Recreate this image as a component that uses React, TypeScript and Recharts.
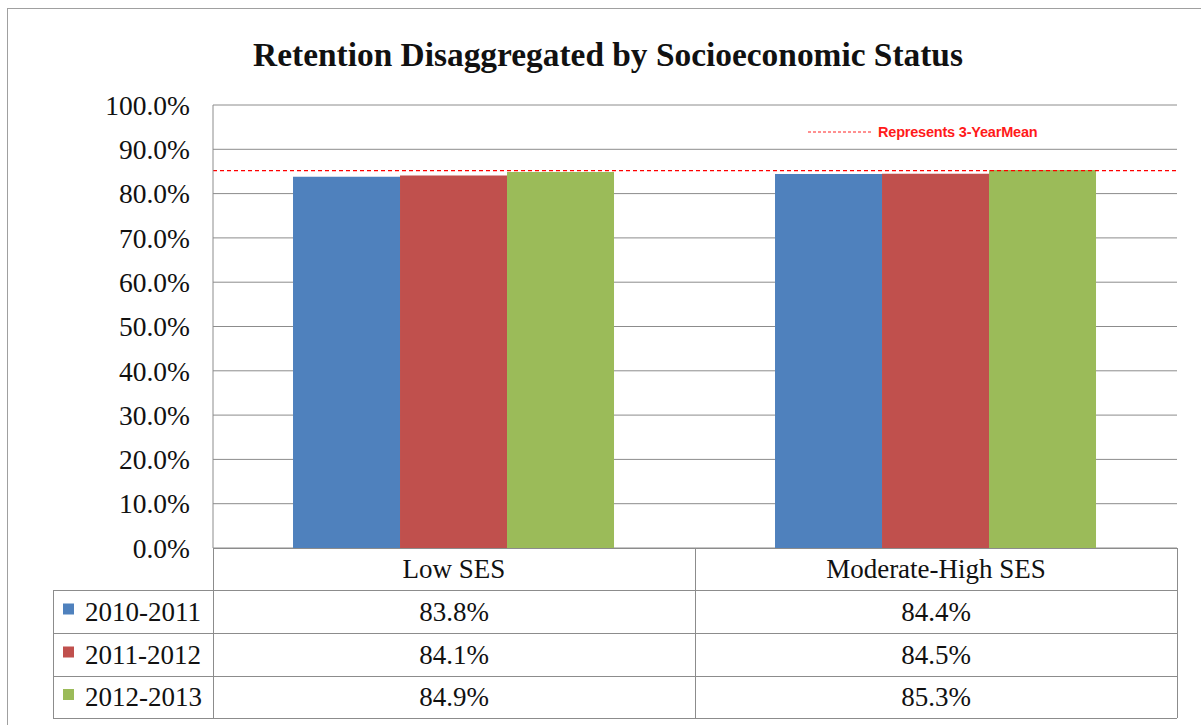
import { BarChart, Bar, XAxis, YAxis, CartesianGrid, ReferenceLine } from "recharts";

const categories = ["Low SES", "Moderate-High SES"];
const seriesNames = ["2010-2011", "2011-2012", "2012-2013"];
const values2010 = [83.8, 84.4];
const values2011 = [84.1, 84.5];
const values2012 = [84.9, 85.3];
const yTicks = [0, 10, 20, 30, 40, 50, 60, 70, 80, 90, 100];
const meanValue = 85.2;

const COLORS = ["#4F81BD", "#C0504D", "#9BBB59"];
const seriesValues = [values2010, values2011, values2012];
const keys = ["s2010", "s2011", "s2012"];

const data = categories.map((name, i) => ({
  name,
  s2010: values2010[i],
  s2011: values2011[i],
  s2012: values2012[i],
}));

const W = 1201;
const H = 725;
const PLOT_LEFT = 213;
const PLOT_RIGHT = 1177;
const PLOT_TOP = 105;
const PLOT_BOTTOM = 548;
const LEGEND_LEFT = 53;
const ROW_LINES = [548, 590, 633, 676, 718];
const SERIF = "Liberation Serif";
const GRID = "#8c8c8c";

const fmt = (v: number) => `${v.toFixed(1)}%`;

function Table() {
  const colW = (PLOT_RIGHT - PLOT_LEFT) / categories.length;
  const colX = categories.map((_, i) => PLOT_LEFT + colW * i);
  return (
    <svg
      width={W}
      height={H}
      style={{ position: "absolute", left: 0, top: 0, pointerEvents: "none", fontFamily: SERIF }}
    >
      <rect x={7.5} y={8.5} width={1200} height={720} fill="none" stroke="#a0a0a0" />
      <text
        x={608}
        y={66}
        textAnchor="middle"
        fontFamily={SERIF}
        fontWeight="bold"
        fontSize={33.4}
        fill="#111"
      >
        Retention Disaggregated by Socioeconomic Status
      </text>

      {/* mean legend */}
      <line x1={808} x2={873} y1={132} y2={132} stroke="#ff2020" strokeWidth={1} strokeDasharray="3 2" />
      <text
        x={878}
        y={137}
        fontFamily="Liberation Sans"
        fontWeight="bold"
        fontSize={14.5}
        fill="#ff1a1a"
        letterSpacing={-0.2}
      >
        Represents 3-YearMean
      </text>

      {/* table grid */}
      <line x1={PLOT_LEFT} x2={PLOT_RIGHT} y1={ROW_LINES[0] + 0.5} y2={ROW_LINES[0] + 0.5} stroke={GRID} />
      {ROW_LINES.slice(1).map((y) => (
        <line key={y} x1={LEGEND_LEFT} x2={PLOT_RIGHT} y1={y + 0.5} y2={y + 0.5} stroke={GRID} />
      ))}
      <line x1={LEGEND_LEFT + 0.5} x2={LEGEND_LEFT + 0.5} y1={ROW_LINES[1]} y2={ROW_LINES[4]} stroke={GRID} />
      <line x1={PLOT_LEFT + 0.5} x2={PLOT_LEFT + 0.5} y1={PLOT_BOTTOM} y2={ROW_LINES[4]} stroke={GRID} />
      {colX.slice(1).map((x) => (
        <line key={x} x1={x + 0.5} x2={x + 0.5} y1={ROW_LINES[0]} y2={ROW_LINES[4]} stroke={GRID} />
      ))}
      <line x1={PLOT_RIGHT + 0.5} x2={PLOT_RIGHT + 0.5} y1={ROW_LINES[0]} y2={ROW_LINES[4]} stroke={GRID} />

      {/* header */}
      {categories.map((c, i) => (
        <text
          key={c}
          x={colX[i] + colW / 2}
          y={(ROW_LINES[0] + ROW_LINES[1]) / 2 + 9}
          textAnchor="middle"
          fontFamily={SERIF}
          fontSize={27}
          fill="#111"
        >
          {c}
        </text>
      ))}

      {/* rows */}
      {seriesNames.map((s, r) => {
        const cy = (ROW_LINES[r + 1] + ROW_LINES[r + 2]) / 2;
        return (
          <g key={s}>
            <rect x={63} y={cy - 8} width={11} height={11} fill={COLORS[r]} />
            <text x={85} y={cy + 9} fontFamily={SERIF} fontSize={27} fill="#111">
              {s}
            </text>
            {seriesValues[r].map((v, i) => (
              <text
                key={i}
                x={colX[i] + colW / 2}
                y={cy + 9}
                textAnchor="middle"
                fontFamily={SERIF}
                fontSize={27}
                fill="#111"
              >
                {fmt(v)}
              </text>
            ))}
          </g>
        );
      })}
    </svg>
  );
}

export default function App() {
  return (
    <div
      style={{
        position: "absolute",
        left: 0,
        top: 0,
        width: W,
        height: H,
        background: "#fff",
        overflow: "hidden",
        fontFamily: SERIF,
      }}
    >
      <div style={{ position: "absolute", left: 0, top: 0 }}>
        <BarChart
          width={W}
          height={H}
          data={data}
          margin={{ top: PLOT_TOP, right: W - PLOT_RIGHT, bottom: H - PLOT_BOTTOM, left: PLOT_LEFT - 200 }}
          barGap={0}
          barCategoryGap="16.6%"
          style={{ fontFamily: SERIF }}
        >
          <CartesianGrid vertical={false} stroke={GRID} />
          <XAxis dataKey="name" hide />
          <YAxis
            width={200}
            domain={[0, 100]}
            ticks={yTicks}
            tickFormatter={fmt}
            tickSize={0}
            tickMargin={23}
            axisLine={{ stroke: GRID }}
            tick={{ fontFamily: SERIF, fontSize: 27.5, fill: "#111" }}
          />
          {keys.map((k, i) => (
            <Bar key={k} dataKey={k} fill={COLORS[i]} isAnimationActive={false} />
          ))}
          <ReferenceLine
            y={meanValue}
            stroke="#ff0000"
            strokeDasharray="4 3"
            strokeWidth={1.2}
          />
        </BarChart>
      </div>
      <Table />
    </div>
  );
}
